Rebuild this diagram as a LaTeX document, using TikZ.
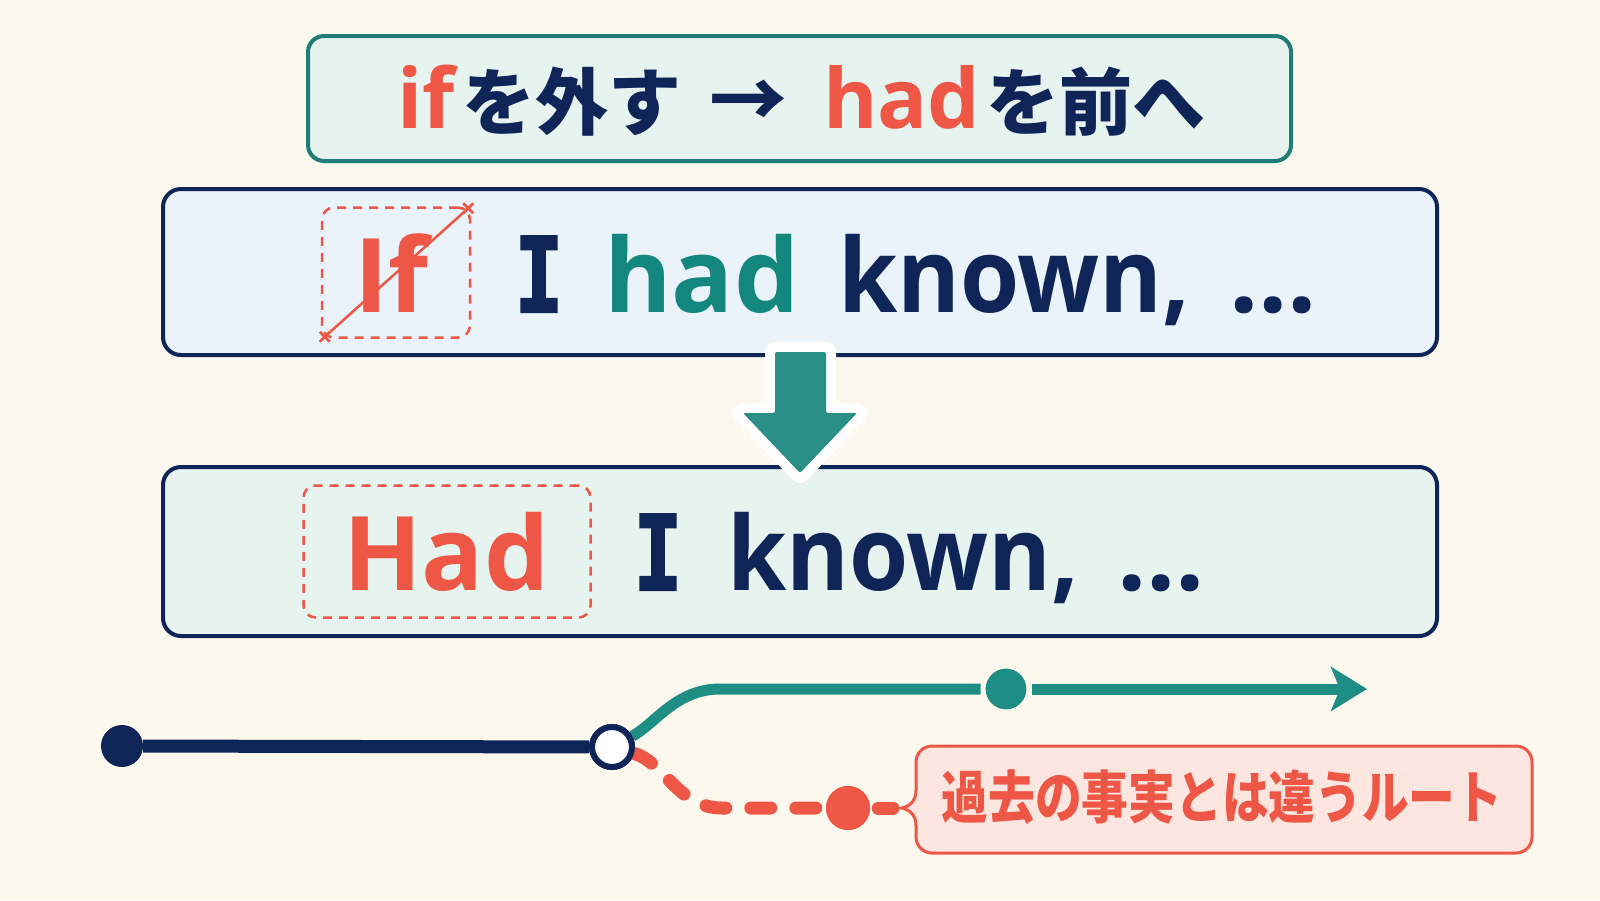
\documentclass[tikz,border=0pt]{standalone}
\usepackage{fontspec}
\usetikzlibrary{arrows.meta,calc}
\newfontfamily\jp{Noto Sans CJK JP}
\newfontfamily\en{Open Sans}[BoldFont={* Bold}]
\newfontfamily\enk{Open Sans}[BoldFont={* Bold}, FakeStretch=0.93]
\newfontfamily\Ifont{DejaVu Sans Mono}[FakeStretch=0.78, FakeBold=2]
\definecolor{bg}{HTML}{FDF8EE}
\definecolor{navy}{HTML}{0F2558}
\definecolor{cteal}{HTML}{1E8D83}
\definecolor{tealtxt}{HTML}{13877D}
\definecolor{cred}{HTML}{EE5646}
\definecolor{topfill}{HTML}{E7F3EF}
\definecolor{topline}{HTML}{1F7D76}
\definecolor{bluefill}{HTML}{EAF2FA}
\definecolor{mintfill}{HTML}{E6F3EE}
\definecolor{pinkfill}{HTML}{FCE6DF}
\definecolor{arrowteal}{HTML}{2A9087}
\tikzset{
  panel/.style={draw=navy, line width=4pt, rounded corners=18pt, inner sep=0pt},
  redbox/.style={draw=cred, line width=2.5pt, dash pattern=on 9pt off 7pt, rounded corners=12pt, inner sep=0pt},
  bigword/.style={font={\en\bfseries\fontsize{103}{110}\selectfont}, inner sep=0pt, anchor=base west},
  bigwordk/.style={font={\enk\bfseries\fontsize{103}{110}\selectfont}, inner sep=0pt, anchor=base west},
  bigI/.style={font={\Ifont\bfseries\fontsize{104}{110}\selectfont}, inner sep=0pt, anchor=base, text=navy},
  topen/.style={font={\en\bfseries\fontsize{83}{90}\selectfont}, inner sep=0pt, anchor=base west, text=cred},
  topjp/.style={font={\jp\bfseries\fontsize{73}{80}\selectfont}, inner sep=0pt, anchor=base west, text=navy},
  dotnode/.style={circle, inner sep=0pt, minimum size=42pt},
  navyline/.style={draw=navy, line width=13pt},
  tealline/.style={draw=cteal, line width=11pt},
  reddash/.style={draw=cred, line width=13pt, line cap=round, dash pattern=on 20pt off 25pt},
  strike/.style={draw=cred, line width=2.5pt},
}
\begin{document}
\begin{tikzpicture}[x=1pt,y=-1pt]
\useasboundingbox (0,0) rectangle (1600,900);
\fill[bg] (0,0) rectangle (1600,900);

% top banner
\node[draw=topline, fill=topfill, line width=4pt, rounded corners=16pt, minimum width=983pt, minimum height=125pt, inner sep=0pt] (banner) at (799.5,98.5) {};
\node[topen] (tif) at (397,128) {if};
\node[topjp] (tj1) at (462,129) {を外す};
\node[topjp, anchor=base, font={\jp\bfseries\fontsize{78}{80}\selectfont}] (tarr) at (748,128) {→};
\node[topen] (thad) at (823,128) {had};
\node[topjp] (tj2) at (986,129) {を前へ};

% sentence 1
\node[panel, fill=bluefill, minimum width=1274pt, minimum height=166pt] (s1) at (800,272) {};
\node[redbox, minimum width=148pt, minimum height=130pt] (b1) at (396,272.5) {};
\node[bigword, text=cred] (if) at (354,312) {If};
\coordinate (sa) at ($(b1.south west)+(4,-2)$);
\coordinate (sb) at ($(b1.north east)+(-3,2)$);
\draw[strike] (sa) -- (sb);
\draw[strike] ($(sa)+(-5,-5)$) -- ($(sa)+(5,5)$) ($(sa)+(-5,5)$) -- ($(sa)+(5,-5)$);
\draw[strike] ($(sb)+(-5,-5)$) -- ($(sb)+(5,5)$) ($(sb)+(-5,5)$) -- ($(sb)+(5,-5)$);
\node[bigI] (i1) at (539,312) {I};
\node[bigword, text=tealtxt] (had1) at (604,312) {had};
\node[bigwordk, text=navy] (kn1) at (838,312) {known,};
\node[bigword, text=navy] (dots1) at (1229,312) {...};

% sentence 2
\node[panel, fill=mintfill, minimum width=1274pt, minimum height=169pt] (s2) at (800,551.5) {};
\node[redbox, minimum width=287pt, minimum height=132pt] (b2) at (447,551.5) {};
\node[bigword, text=cred] (had2) at (343,590) {Had};
\node[bigI] (i2) at (658,590) {I};
\node[bigwordk, text=navy] (kn2) at (727,590) {known,};
\node[bigword, text=navy] (dots2) at (1117,590) {...};

% down arrow
\draw[white, line width=20pt, line join=round, fill=white]
  (775,352) -- (826,352) -- (826,413) -- (857,413) -- (800,473) -- (743,413) -- (775,413) -- cycle;
\fill[arrowteal, rounded corners=2pt]
  (775,352) -- (826,352) -- (826,413) -- (857,413) -- (800,473) -- (743,413) -- (775,413) -- cycle;

% timeline
\node[dotnode, fill=navy] (t0) at (122,746) {};
\node[dotnode, draw=navy, fill=white, line width=6pt, minimum size=40pt] (t1) at (612,747) {};
\node[dotnode, fill=cteal, draw=bg, line width=5pt, minimum size=46pt] (t2) at (1006,689) {};
\node[dotnode, fill=cred, minimum size=44pt] (t3) at (848,808) {};
\coordinate (tend) at (1367,689);
\coordinate (cpt) at (893,808);

\draw[navyline] (t0) -- (t1);
\draw[tealline] (t1) .. controls (655,724) and (676,689) .. (720,689) -- (t2);
\draw[tealline, -{Stealth[length=36pt, width=44pt, inset=9pt]}] (t2) -- (tend);
\draw[reddash] (t1) .. controls (664,762) and (678,808) .. (722,808) -- (t3);
\draw[draw=cred, line width=13pt, line cap=round, shorten <=8pt] (t3) -- (cpt);
\node[dotnode, fill=cred, minimum size=44pt] at (t3) {};
\node[dotnode, draw=navy, fill=white, line width=6pt, minimum size=40pt] at (t1) {};

% callout
\filldraw[fill=pinkfill, draw=cred, line width=3pt]
  (916,790) [rounded corners=16pt] -- (916,746) -- (1532,746) -- (1532,853) -- (916,853) [sharp corners] -- (916,826)
  .. controls (916,815) and (910,810) .. (902,808) .. controls (910,806) and (916,801) .. cycle;
\node[inner sep=0pt, text=cred, font={\jp\bfseries\fontsize{57}{60}\selectfont}] (note) at (1222,797) {\scalebox{0.82}[1]{過去の事実とは違うルート}};
\end{tikzpicture}
\end{document}
